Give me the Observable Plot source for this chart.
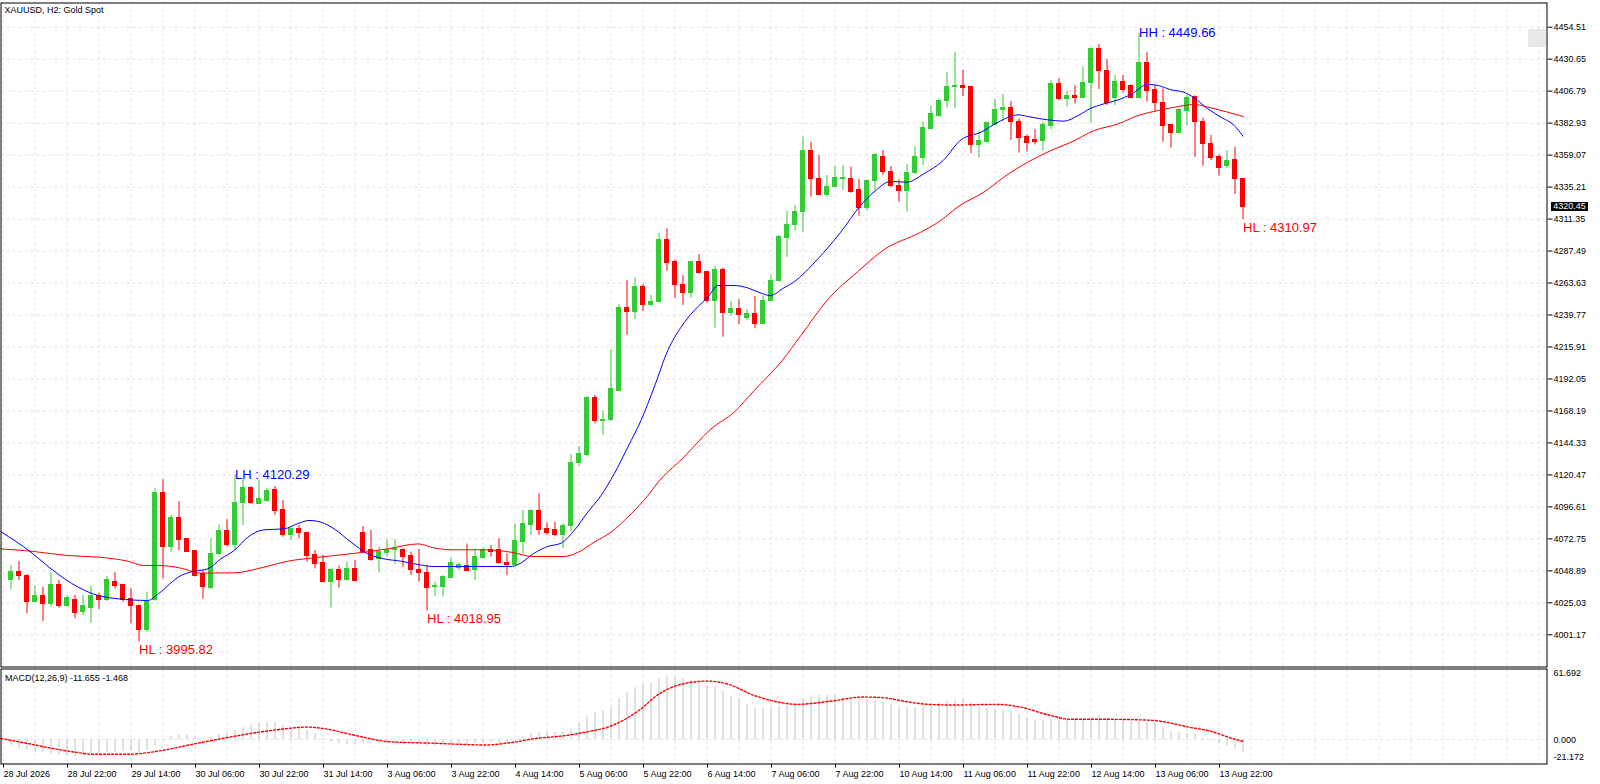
<!DOCTYPE html>
<html><head><meta charset="utf-8">
<script src="https://cdn.jsdelivr.net/npm/d3@7"></script>
<script src="https://cdn.jsdelivr.net/npm/@observablehq/plot@0.6"></script>
<style>
body{margin:0;background:#fff;width:1600px;height:784px;overflow:hidden;position:relative;font-family:"Liberation Sans",Arial,sans-serif;}
#main{position:absolute;left:0;top:0}
#macd{position:absolute;left:0;top:668px}
#price{position:absolute;left:1551px;width:37px;height:9px;background:#000;color:#fff;font:9px/9px "Liberation Sans",Arial,sans-serif;text-align:center}
#btn{position:absolute;left:1528px;top:29px;width:18px;height:18px;background:#e8e8e8}
</style></head><body>
<div id="main"></div><div id="macd"></div><div id="btn"></div><div id="price"></div>
<script>
const title = "XAUUSD, H2: Gold Spot";
const macdTitle = "MACD(12,26,9) -11.655 -1.468";
const priceTicks = [4454.51,4430.65,4406.79,4382.93,4359.07,4335.21,4311.35,4287.49,4263.63,4239.77,4215.91,4192.05,4168.19,4144.33,4120.47,4096.61,4072.75,4048.89,4025.03,4001.17];
const timeLabels = ["28 Jul 2026","28 Jul 22:00","29 Jul 14:00","30 Jul 06:00","30 Jul 22:00","31 Jul 14:00","3 Aug 06:00","3 Aug 22:00","4 Aug 14:00","5 Aug 06:00","5 Aug 22:00","6 Aug 14:00","7 Aug 06:00","7 Aug 22:00","10 Aug 14:00","11 Aug 06:00","11 Aug 22:00","12 Aug 14:00","13 Aug 06:00","13 Aug 22:00"];
const timeLabelBars = [-1,7,15,23,31,39,47,55,63,71,79,87,95,103,111,119,127,135,143,151];

const opens = [4041.7,4048.4,4045.4,4026.0,4030.0,4023.8,4038.0,4022.3,4026.8,4018.1,4021.1,4030.0,4026.8,4040.9,4038.0,4028.0,4023.0,4004.4,4026.8,4107.1,
4066.6,4088.5,4072.3,4063.6,4046.7,4036.0,4061.6,4078.3,4068.5,4099.6,4110.8,4098.9,4100.9,4109.3,4094.4,4075.3,4080.2,4077.3,4060.8,4054.6,
4040.5,4049.2,4042.2,4050.4,4077.0,4064.1,4057.4,4062.1,4064.1,4064.1,4059.6,4049.6,4047.4,4036.7,4036.7,4043.7,4050.9,4052.4,4049.2,4058.6,
4064.6,4064.1,4054.9,4053.4,4070.3,4083.2,4093.9,4080.2,4079.0,4075.3,4082.2,4129.5,4135.0,4178.0,4160.6,4161.1,4183.4,4244.9,4241.9,4261.0,
4246.9,4249.8,4295.4,4279.2,4262.5,4256.1,4279.2,4271.7,4250.1,4273.7,4241.1,4243.9,4237.4,4240.6,4233.2,4250.6,4265.0,4297.3,4306.6,4316.5,
4361.8,4341.4,4329.4,4335.6,4341.1,4341.4,4332.7,4319.5,4339.6,4358.0,4346.8,4336.4,4332.2,4345.8,4357.0,4378.7,4388.1,4399.3,4409.8,4411.0,
4409.8,4366.7,4369.2,4381.9,4392.9,4394.3,4384.1,4372.5,4370.0,4369.5,4380.7,4411.8,4400.6,4403.5,4401.6,4413.0,4437.9,4422.2,4401.8,4413.3,
4410.5,4401.8,4427.9,4407.3,4398.1,4381.2,4375.4,4391.9,4402.8,4384.1,4367.5,4357.5,4350.8,4355.8,4341.4];
const highs = [4052.9,4055.9,4046.0,4037.5,4036.7,4047.4,4041.7,4030.5,4030.5,4030.5,4037.5,4032.2,4044.7,4047.4,4038.7,4035.5,4023.5,4033.0,4110.1,4116.8,
4090.2,4100.6,4072.8,4064.0,4049.2,4072.8,4083.2,4087.0,4120.29,4117.6,4111.5,4116.8,4110.6,4111.8,4101.4,4081.0,4082.7,4077.8,4064.1,4060.3,
4050.4,4052.4,4055.4,4056.6,4082.0,4079.0,4066.6,4072.0,4072.3,4065.3,4062.8,4064.8,4052.9,4040.5,4045.4,4058.4,4054.9,4069.0,4065.3,4066.0,
4067.8,4072.8,4061.6,4084.0,4093.9,4094.4,4106.4,4084.7,4085.2,4083.9,4135.7,4141.7,4179.0,4179.7,4168.0,4214.0,4247.6,4265.5,4267.5,4262.5,
4254.3,4300.8,4304.1,4280.9,4269.2,4279.5,4284.9,4272.0,4276.2,4274.7,4249.8,4251.3,4243.9,4253.6,4253.8,4269.2,4299.1,4317.0,4321.5,4372.5,
4368.7,4358.8,4343.9,4350.6,4351.3,4350.1,4340.9,4340.6,4360.5,4362.5,4350.6,4340.6,4352.1,4365.5,4383.7,4395.3,4401.1,4420.5,4435.9,4422.2,
4410.3,4376.7,4383.7,4400.6,4404.3,4399.1,4386.1,4374.2,4378.2,4383.7,4414.7,4416.0,4406.8,4411.0,4424.7,4438.9,4441.6,4430.4,4418.5,4418.5,
4411.5,4449.66,4435.6,4411.0,4408.5,4381.7,4393.6,4403.5,4403.3,4386.6,4373.7,4359.3,4362.5,4365.0,4341.6];
const lows = [4034.7,4041.7,4016.8,4025.5,4011.1,4021.8,4021.1,4021.8,4013.1,4015.6,4009.8,4020.1,4026.0,4035.5,4025.5,4009.4,3995.82,4003.1,4026.3,4042.9,
4062.8,4064.1,4062.8,4044.2,4027.8,4035.0,4059.9,4066.6,4064.1,4082.7,4098.4,4098.5,4100.1,4090.2,4074.0,4071.5,4072.8,4055.4,4050.4,4040.0,
4021.1,4036.0,4041.2,4040.7,4062.1,4056.1,4047.4,4059.1,4054.1,4051.6,4045.4,4040.5,4018.95,4029.8,4029.3,4043.5,4049.2,4048.5,4041.7,4057.4,
4059.1,4054.1,4045.4,4052.9,4061.6,4075.3,4075.3,4075.3,4074.5,4065.3,4077.7,4127.0,4134.2,4158.6,4149.9,4160.3,4183.0,4224.5,4236.4,4242.4,
4246.1,4248.6,4272.5,4252.3,4246.9,4252.3,4270.8,4248.6,4230.0,4223.2,4238.7,4232.7,4235.7,4229.5,4232.4,4249.8,4264.3,4282.9,4302.3,4301.6,
4327.7,4329.0,4327.7,4335.1,4332.7,4330.7,4313.5,4317.3,4332.7,4343.9,4335.1,4324.0,4316.5,4344.6,4351.3,4378.2,4387.4,4394.3,4393.6,4402.8,
4360.0,4357.0,4367.5,4381.8,4384.4,4370.0,4360.5,4361.3,4366.7,4362.0,4378.0,4399.8,4394.8,4397.3,4401.1,4382.9,4408.0,4396.1,4396.1,4405.5,
4401.1,4401.0,4398.6,4391.1,4368.7,4364.3,4375.0,4380.7,4357.5,4350.8,4355.0,4343.4,4349.0,4329.7,4310.97];
const closes = [4048.4,4045.4,4026.0,4030.0,4024.3,4038.0,4022.3,4028.3,4017.3,4022.3,4030.0,4026.8,4041.7,4037.5,4027.3,4022.5,4004.9,4026.0,4106.9,4066.6,
4088.5,4072.0,4063.3,4045.4,4036.7,4061.6,4078.3,4068.5,4099.6,4110.8,4099.4,4102.6,4108.8,4093.9,4075.3,4080.2,4077.0,4060.3,4054.1,4040.5,
4049.2,4042.4,4050.4,4041.2,4062.6,4057.1,4062.8,4064.6,4065.3,4059.1,4049.2,4047.1,4036.0,4037.5,4044.2,4054.9,4053.4,4048.7,4059.1,4064.8,
4062.8,4054.6,4053.4,4070.8,4083.5,4093.9,4079.7,4077.2,4075.3,4082.7,4129.5,4135.7,4177.7,4160.6,4161.8,4184.2,4244.9,4241.9,4261.0,4246.9,
4249.8,4295.4,4278.5,4261.8,4256.1,4279.2,4271.0,4250.1,4273.5,4241.1,4243.9,4239.9,4240.6,4233.2,4250.6,4265.5,4297.8,4306.6,4317.0,4361.8,
4341.1,4329.4,4335.6,4341.9,4341.9,4331.9,4319.5,4340.1,4359.3,4346.3,4335.9,4332.2,4345.8,4357.5,4379.2,4389.4,4399.8,4409.8,4411.0,4409.3,
4366.7,4369.5,4382.9,4393.1,4394.3,4384.1,4372.0,4368.2,4369.0,4381.2,4411.8,4400.6,4403.5,4401.6,4413.0,4437.9,4421.7,4397.8,4413.3,4408.0,
4401.8,4427.9,4406.8,4397.8,4380.7,4375.4,4392.9,4401.8,4383.7,4367.0,4356.8,4349.3,4355.0,4340.9,4320.45];

// moving averages: [bar, value]
const maFast = [[-1.25,4078],[2.5,4062.8],[5,4050.4],[8.4,4036.7],[10.25,4031.7],[13.4,4028.0],[17.1,4026.8],[18.4,4031.7],[21.25,4045.4],[22.9,4048.6],[24.6,4050.4],[26.25,4057.9],[27.9,4064.1],[29.6,4074.0],[31.6,4079.5],[34.1,4080.2],[36,4084.5],[37.25,4086.5],[38.75,4085.2],[40.4,4080.2],[42.5,4070.3],[44.6,4061.6],[46.6,4057.9],[48.75,4056.1],[50.9,4053.6],[52.9,4052.1],[57,4052.1],[61.25,4052.1],[62.5,4052.1],[63.4,4053.6],[65.4,4062.1],[67.1,4067.1],[68.75,4069.5],[70.4,4079.0],[72.1,4092.7],[73.75,4105.1],[75.4,4121.3],[77.1,4141.2],[78.75,4161.1],[80.4,4185.9],[82.1,4213.3],[83.75,4230.7],[85.4,4243.1],[87.1,4253.1],[88.4,4261.8],[90.4,4261.8],[92.1,4260.0],[93.75,4256.1],[94.9,4254.3],[96.6,4260.0],[97.8,4264.2],[100.9,4281.9],[103.7,4301.5],[106.2,4321.5],[108.1,4332.7],[109.9,4339.4],[112,4338.9],[114.1,4345.1],[116.5,4355.0],[118.75,4370.5],[121.25,4376.2],[123.4,4383.7],[125.9,4389.1],[127.5,4387.4],[129.6,4385.4],[131.6,4384.4],[133.4,4388.6],[135,4394.1],[136.6,4397.3],[138.4,4400.3],[140,4404.3],[142.1,4411.8],[143.4,4411.0],[145,4407.8],[146.6,4406.0],[147.9,4401.8],[149.6,4393.6],[151.25,4387.4],[152.9,4381.2],[154,4373.2]];
const maSlow = [[-1.25,4065.3],[2.9,4063.3],[7.1,4060.3],[10.9,4059.1],[14.6,4056.1],[16.6,4052.9],[18.4,4052.9],[21.25,4050.9],[23.75,4047.2],[27.9,4047.4],[31.6,4051.6],[34.6,4056.1],[37.9,4058.6],[40.4,4060.3],[44.1,4062.8],[47.1,4065.3],[50.9,4069.0],[52.9,4066.0],[55,4064.6],[59.1,4064.6],[62.5,4062.8],[65.25,4059.6],[69.1,4059.6],[70.9,4062.8],[72.9,4070.3],[75,4077.7],[77.1,4089.0],[79.1,4101.4],[81.25,4117.5],[84.1,4133.7],[87.5,4154.8],[90.4,4167.3],[92.9,4183.4],[96.4,4205.8],[98.75,4224.6],[102,4250.6],[105.8,4271.9],[109.1,4288.4],[113.7,4301.5],[115.9,4309.0],[118.6,4321.5],[121.6,4331.4],[124.1,4342.6],[127.1,4353.8],[130,4362.5],[132.5,4368.7],[135.4,4377.4],[138.4,4382.4],[140.9,4388.6],[143.4,4392.4],[145.9,4395.3],[147.9,4396.8],[150,4394.3],[152.1,4391.1],[154,4387.9]];

const macdMain = [-5.0,-7.9,-9.4,-11.3,-11.3,-12.8,-13.4,-14.3,-14.9,-14.3,-13.4,-12.8,-11.3,-11.3,-10.5,-10.5,-11.3,-9.9,-5.5,-1.1,
3.2,4.1,4.1,2.3,1.1,2.3,4.7,5.8,8.1,10.5,12.8,14.0,14.9,14.9,12.8,11.0,9.9,7.6,5.2,1.1,
-1.8,-3.5,-4.7,-4.7,-2.6,-1.8,-3.5,-3.5,-3.5,-4.7,-4.7,-4.7,-5.5,-5.5,-4.7,-4.1,-4.1,-4.7,-3.5,-2.6,
-2.6,-3.5,-3.5,-1.1,2.3,5.2,6.1,6.1,6.1,6.1,9.1,14.9,19.8,23.6,25.1,28.5,36.1,41.1,45.5,48.4,
49.2,53.6,54.8,54.8,53.6,51.9,49.9,47.0,46.0,42.0,38.2,35.3,30.9,27.4,27.4,28.0,29.5,30.9,31.4,
35.5,37.5,38.7,38.7,38.7,36.8,35.3,34.4,34.4,33.8,32.9,30.9,28.5,28.0,28.0,28.5,31.4,32.4,33.8,34.4,35.3,32.4,28.5,27.4,27.1,25.6,24.2,22.2,19.3,16.3,16.3,17.8,18.6,17.8,18.6,18.6,19.3,20.7,19.3,18.6,17.8,16.3,15.7,14.9,14.0,10.5,7.0,6.1,5.2,4.7,1.1,-0.6,-3.5,-5.5,-8.4,-11.655];
const macdSignal = [[-1.25,1.1],[2.6,-4.1],[5.1,-7.6],[8.3,-11.3],[10.2,-12.8],[14.7,-12.8],[17.2,-11.3],[19.2,-9.1],[21.7,-5.5],[24.3,-1.8],[27.4,2.3],[30.6,6.1],[33.8,9.1],[37,11.0],[39.6,9.1],[42.1,5.2],[44.7,1.1],[47.2,-1.8],[53,-3.2],[56.1,-4.1],[59.3,-4.7],[62.5,-2.6],[65.7,1.1],[68.9,3.2],[71.5,6.1],[75.3,12.8],[78.5,25.6],[81,40.0],[84.2,49.2],[87.1,51.3],[89.3,49.2],[93.1,38.2],[96.3,32.4],[98.2,30.9],[102.6,33.8],[106.4,37.3],[109,36.8],[111.5,33.8],[114.7,30.9],[117.9,30.3],[123,30.9],[126.2,28.5],[129.4,22.2],[132.5,17.8],[137,17.8],[142.7,16.9],[144.7,14.9],[147.2,11.0],[149.8,7.6],[153,0.3],[154,-1.468]];

const swingHighs = [{i:28,p:4120.29,t:"LH : 4120.29"},{i:141,p:4449.66,t:"HH : 4449.66"}];
const swingLows = [{i:16,p:3995.82,t:"HL : 3995.82"},{i:52,p:4018.95,t:"HL : 4018.95"},{i:154,p:4310.97,t:"HL : 4310.97"}];

const GREEN = "#32cd32", RED = "#ff0000", GRID = "#e2e2e2";
const candles = opens.map((o,i)=>({i,o,h:highs[i],l:lows[i],c:closes[i],lo:Math.min(o,closes[i]),hi:Math.max(o,closes[i])}));
const up = candles.filter(d=>d.c>=d.o), down = candles.filter(d=>d.c<d.o);
const fast = maFast.map(([i,v])=>({i,v})), slow = maSlow.map(([i,v])=>({i,v}));
const hist = macdMain.map((v,i)=>({i,v}));
const sig = macdSignal.map(([i,v])=>({i,v}));
const gridBars = d3.range(-1, 192, 4);
const xDomain = [-1.25, 192];
const font = {fontFamily:'"Liberation Sans", Arial, sans-serif', fontSize:"9px", background:"white", overflow:"visible"};

const body = (data, fill) => Plot.rect(data, {x1:d=>d.i-0.3125, x2:d=>d.i+0.3125, y1:"lo", y2:"hi", fill, insetTop:-0.5, insetBottom:-0.5, shapeRendering:"crispEdges"});
const wick = (data, stroke) => Plot.ruleX(data, {x:"i", y1:"l", y2:"h", stroke, strokeWidth:1});

const main = Plot.plot({
  width:1600, height:668, marginLeft:0.5, marginRight:53.5, marginTop:2.5, marginBottom:1.5,
  style: font,
  x:{domain:xDomain, axis:null, label:null},
  y:{domain:[3977.15, 4472.57], axis:null, label:null},
  marks:[
    Plot.gridY(priceTicks, {stroke:GRID, strokeOpacity:1, strokeDasharray:"3,3"}),
    Plot.gridX(gridBars, {stroke:GRID, strokeOpacity:1, strokeDasharray:"3,3"}),
    wick(up, GREEN), wick(down, RED),
    body(up, GREEN), body(down, RED),
    Plot.line(slow, {x:"i", y:"v", stroke:"#ff0000", strokeWidth:1, curve:"monotone-x"}),
    Plot.line(fast, {x:"i", y:"v", stroke:"#0000ff", strokeWidth:1, curve:"monotone-x"}),
    Plot.text(swingHighs, {x:"i", y:"p", text:"t", fill:"#0000ff", textAnchor:"start", fontSize:13, dy:-0.5}),
    Plot.text(swingLows, {x:"i", y:"p", text:"t", fill:"#ff0000", textAnchor:"start", fontSize:13, dy:8}),
    Plot.text([title], {text:d=>d, frameAnchor:"top-left", dx:3.5, dy:3.5, lineAnchor:"top", textAnchor:"start", fill:"#000"}),
    Plot.frame({stroke:"#000"}),
    Plot.axisY({anchor:"right", ticks:priceTicks, tickFormat:d=>d.toFixed(2), tickSize:5, tickPadding:1.5, stroke:"#000", fill:"#000", label:null})
  ]
});
document.getElementById("main").appendChild(main);

const macd = Plot.plot({
  width:1600, height:116, marginLeft:0.5, marginRight:53.5, marginTop:0.5, marginBottom:20.5,
  style: font,
  x:{domain:xDomain, axis:null, label:null},
  y:{domain:[-21.35, 61.87], axis:null, label:null},
  marks:[
    Plot.gridX(gridBars, {stroke:GRID, strokeOpacity:1, strokeDasharray:"3,3"}),
    Plot.ruleY([0], {stroke:GRID, strokeDasharray:"3,3"}),
    Plot.ruleX(hist, {x:"i", y1:0, y2:"v", stroke:"#c0c0c0", strokeWidth:1}),
    Plot.line(sig, {x:"i", y:"v", stroke:"#ff0000", strokeWidth:1.4, strokeDasharray:"2,2", curve:"monotone-x"}),
    Plot.text([macdTitle], {text:d=>d, frameAnchor:"top-left", dx:4, dy:6, lineAnchor:"top", textAnchor:"start", fill:"#000"}),
    Plot.frame({stroke:"#000"}),
    Plot.text([61.692], {y:d=>d, text:d=>d.toFixed(3), frameAnchor:"right", dx:6.5, dy:4.3, textAnchor:"start", fill:"#000"}),
    Plot.text([0], {y:d=>d, text:d=>d.toFixed(3), frameAnchor:"right", dx:6.5, textAnchor:"start", fill:"#000"}),
    Plot.text([-21.172], {y:d=>d, text:d=>d.toFixed(3), frameAnchor:"right", dx:6.5, dy:-6.3, textAnchor:"start", fill:"#000"}),
    Plot.axisX({ticks:timeLabelBars, tickFormat:d=>timeLabels[timeLabelBars.indexOf(d)], tickSize:4, tickPadding:3, textAnchor:"start", dx:0.5, stroke:"#000", fill:"#000", label:null})
  ]
});
document.getElementById("macd").appendChild(macd);

const last = closes[closes.length-1];
const py = main.scale("y").apply(last);
const pl = document.getElementById("price");
pl.textContent = last.toFixed(2);
pl.style.top = (py - 4.5) + "px";
</script></body></html>
